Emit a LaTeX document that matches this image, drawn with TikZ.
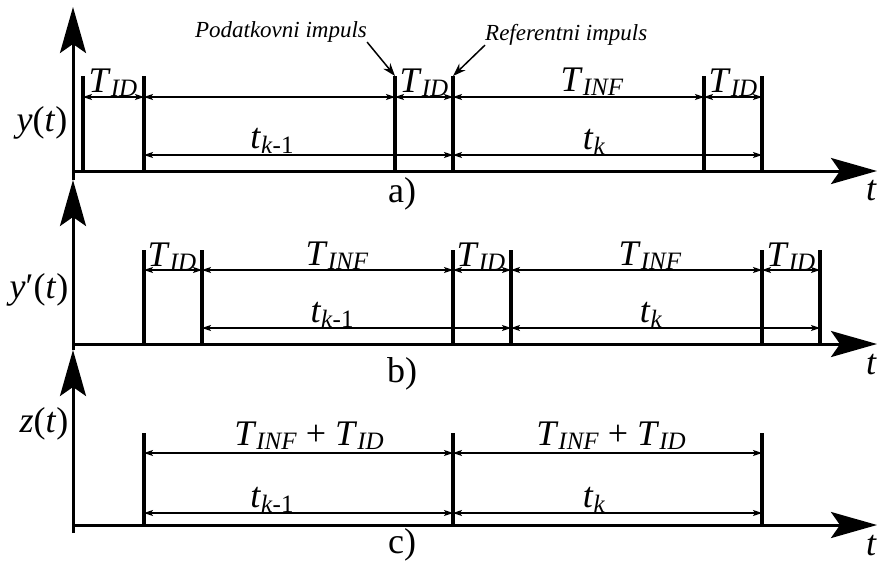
\documentclass[tikz,border=0pt]{standalone}
\usepackage{fontspec}
\setmainfont{Liberation Serif}
\usetikzlibrary{arrows.meta}
\newcommand\bigsz{\fontsize{36}{36}\selectfont}
\newcommand\subsz{\fontsize{25}{25}\selectfont}
\newcommand\myT[1]{{\bigsz\textit{T}}\raisebox{-4pt}{\subsz\textit{#1}}}
\newcommand\myt[1]{{\bigsz\textit{t}}\raisebox{-5pt}{\subsz #1}}
\begin{document}
\begin{tikzpicture}[x=1pt,y=-1pt,
  axis/.style={line width=3pt,-{Stealth[length=46pt,width=26pt,inset=9pt]}},
  pulse/.style={line width=3.2pt},
  dim/.style={line width=1.2pt,{Stealth[length=9pt,width=6pt,inset=2pt]}-{Stealth[length=9pt,width=6pt,inset=2pt]}},
  ann/.style={line width=1.5pt,-{Stealth[length=13pt,width=9pt]}},
  lab/.style={anchor=base,inner sep=0pt},
  ax/.style={anchor=base,inner sep=0pt,font=\bigsz},
  note/.style={inner sep=0pt,font=\fontsize{23}{23}\selectfont\itshape}]
\useasboundingbox (0,0) rectangle (877,566);
% vertical axes
\coordinate (v0) at (73,533);
\coordinate (vc) at (73,350);
\coordinate (vb) at (73,180);
\coordinate (va) at (73,7);
\draw[axis] (v0) -- (vc);
\draw[axis] (vc) -- (vb);
\draw[axis] (vb) -- (va);
% horizontal axes
\coordinate (oa) at (73,171); \coordinate (ea) at (877,171);
\coordinate (ob) at (73,344); \coordinate (eb) at (877,344);
\coordinate (oc) at (73,525); \coordinate (ec) at (877,525);
\draw[axis] (oa) -- (ea);
\draw[axis] (ob) -- (eb);
\draw[axis] (oc) -- (ec);
\node[lab,anchor=base east] (ta) at (877,200) {\bigsz\textit{t}};
\node[lab,anchor=base east] (tb) at (877,374) {\bigsz\textit{t}};
\node[lab,anchor=base east] (tc) at (877,555) {\bigsz\textit{t}};
\node[ax] (ya) at (42,131) {\textit{y}(\textit{t})};
\node[ax] (yb) at (39,298) {\textit{y}′(\textit{t})};
\node[ax] (yc) at (44,432) {\textit{z}(\textit{t})};
\node[lab,font=\fontsize{36}{36}\selectfont] (pa) at (402,202) {a)};
\node[lab,font=\fontsize{36}{36}\selectfont] (pb) at (402,382) {b)};
\node[lab,font=\fontsize{36}{36}\selectfont] (pc) at (402,553) {c)};
% panel a
\foreach \n/\x in {1/83,2/144,3/395,4/453,5/704,6/762}{
  \coordinate (aB\n) at (\x,171); \coordinate (aU\n) at (\x,76);
  \coordinate (aT\n) at (\x,97); \coordinate (at\n) at (\x,155);
  \draw[pulse] (aB\n) -- (aU\n);}
\draw[dim] (aT1) -- (aT2);
\draw[dim] (aT2) -- (aT3);
\draw[dim] (aT3) -- (aT4);
\draw[dim] (aT4) -- (aT5);
\draw[dim] (aT5) -- (aT6);
\draw[dim] (at2) -- (at4);
\draw[dim] (at4) -- (at6);
\node[lab] (la1) at (113,92) {\myT{ID}};
\node[lab] (la2) at (424,92) {\myT{ID}};
\node[lab] (la3) at (592,91) {\myT{INF}};
\node[lab] (la4) at (733,92) {\myT{ID}};
\node[lab] (la5) at (272,148) {\myt{\textit{k}-1}};
\node[lab] (la6) at (594,149) {\myt{\textit{k}}};
% annotations
\node[note,anchor=base] (podat) at (281,37) {Podatkovni impuls};
\node[note,anchor=base west] (refer) at (485,40) {Referentni impuls};
\draw[ann] (podat.south east) -- (aU3);
\draw[ann] (refer.south west) -- (aU4);
% panel b
\foreach \n/\x in {1/144,2/202,3/453,4/511,5/762,6/820}{
  \coordinate (bB\n) at (\x,344); \coordinate (bU\n) at (\x,250);
  \coordinate (bT\n) at (\x,270); \coordinate (bt\n) at (\x,328);
  \draw[pulse] (bB\n) -- (bU\n);}
\draw[dim] (bT1) -- (bT2);
\draw[dim] (bT2) -- (bT3);
\draw[dim] (bT3) -- (bT4);
\draw[dim] (bT4) -- (bT5);
\draw[dim] (bT5) -- (bT6);
\draw[dim] (bt2) -- (bt4);
\draw[dim] (bt4) -- (bt6);
\node[lab] (lb1) at (172,266) {\myT{ID}};
\node[lab] (lb2) at (337,265) {\myT{INF}};
\node[lab] (lb3) at (481,266) {\myT{ID}};
\node[lab] (lb4) at (650,265) {\myT{INF}};
\node[lab] (lb5) at (791,266) {\myT{ID}};
\node[lab] (lb6) at (332,322) {\myt{\textit{k}-1}};
\node[lab] (lb7) at (651,322) {\myt{\textit{k}}};
% panel c
\foreach \n/\x in {1/144,2/453,3/762}{
  \coordinate (cB\n) at (\x,525); \coordinate (cU\n) at (\x,433);
  \coordinate (cT\n) at (\x,453); \coordinate (ct\n) at (\x,513);
  \draw[pulse] (cB\n) -- (cU\n);}
\draw[dim] (cT1) -- (cT2);
\draw[dim] (cT2) -- (cT3);
\draw[dim] (ct1) -- (ct2);
\draw[dim] (ct2) -- (ct3);
\node[lab] (lc1) at (309,445) {\myT{INF}\bigsz{} + \myT{ID}};
\node[lab] (lc2) at (611,445) {\myT{INF}\bigsz{} + \myT{ID}};
\node[lab] (lc3) at (272,507) {\myt{\textit{k}-1}};
\node[lab] (lc4) at (594,507) {\myt{\textit{k}}};
\end{tikzpicture}
\end{document}
